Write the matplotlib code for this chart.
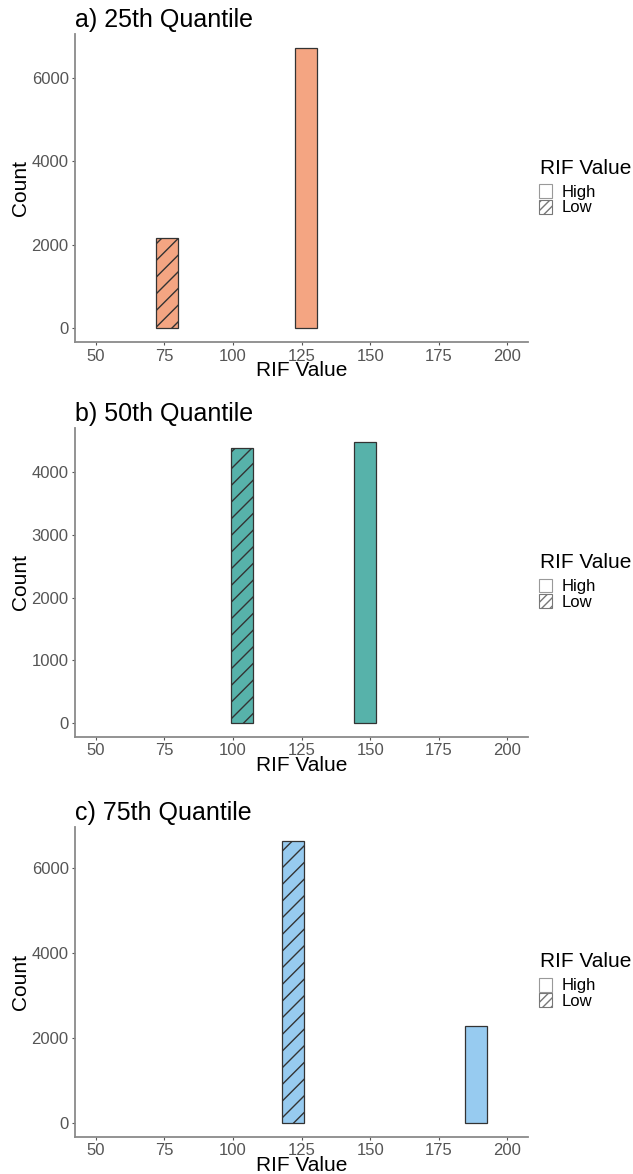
import matplotlib
matplotlib.use("Agg")
import matplotlib.pyplot as plt
from matplotlib.patches import Patch
from matplotlib.ticker import MultipleLocator

plt.rcParams['font.family'] = ['Liberation Sans', 'DejaVu Sans']
plt.rcParams['hatch.linewidth'] = 1.0

# RIF value bins (bar centres) and counts for each quantile
groups = ["Low", "High"]
rif_25 = [76.0, 126.7]
count_25 = [2170, 6720]
rif_50 = [103.3, 148.3]
count_50 = [4390, 4485]
rif_75 = [122.0, 188.5]
count_75 = [6630, 2270]

titles = ["a) 25th Quantile", "b) 50th Quantile", "c) 75th Quantile"]
fills = ["#F4A582", "#57B2AA", "#97CBF0"]
y_steps = [2000, 1000, 2000]
x_ticks = [50, 75, 100, 125, 150, 175, 200]
bin_width = 8.0

W, H = 633, 1174
fig = plt.figure(figsize=(W / 100, H / 100), dpi=100)

# panel boxes in pixels: (top, bottom)
panel_px = [(33.7, 342.3), (428.0, 737.0), (826.7, 1136.7)]
left_px, right_px = 75.0, 528.0

datasets = [(rif_25, count_25), (rif_50, count_50), (rif_75, count_75)]

for i, ((rif, counts), (top, bottom)) in enumerate(zip(datasets, panel_px)):
    ax = fig.add_axes([left_px / W, 1 - bottom / H,
                       (right_px - left_px) / W, (bottom - top) / H])
    for x, c, g in zip(rif, counts, groups):
        ax.bar(x, c, width=bin_width, color=fills[i], edgecolor="#333333",
               linewidth=0.9, hatch="//" if g == "Low" else None)

    ymax = max(counts)
    ax.set_ylim(-0.05 * ymax, 1.05 * ymax)
    ax.set_xlim(42.5, 207.5)
    ax.set_xticks(x_ticks)
    ax.yaxis.set_major_locator(MultipleLocator(y_steps[i]))

    for side in ["top", "right"]:
        ax.spines[side].set_visible(False)
    for side in ["left", "bottom"]:
        ax.spines[side].set_color("#8a8a8a")
        ax.spines[side].set_linewidth(1.3)
    ax.tick_params(axis="both", length=2.5, width=0.8, color="#555555",
                   labelsize=12, labelcolor="#555555", pad=2)

    ax.set_title(titles[i], loc="left", fontsize=18, pad=5)
    ax.set_xlabel("RIF Value", fontsize=15, labelpad=-1.5)
    ax.set_ylabel("Count", fontsize=15, labelpad=1)

    # legend block centred on the panel
    mid = (top + bottom) / 2
    fig.text(540 / W, 1 - (mid - 20) / H, "RIF Value", fontsize=15,
             ha="left", va="center")
    handles = [Patch(facecolor="white", edgecolor="#999999", linewidth=0.8),
               Patch(facecolor="white", edgecolor="#777777", linewidth=0.8,
                     hatch="////")]
    fig.legend(handles, ["High", "Low"], loc="upper left",
               bbox_to_anchor=(539 / W, 1 - (mid - 4) / H),
               frameon=False, fontsize=12, labelspacing=0,
               handlelength=0.78, handleheight=0.9, handletextpad=0.6,
               borderpad=0, borderaxespad=0)

fig.savefig("out.png", dpi=100)
